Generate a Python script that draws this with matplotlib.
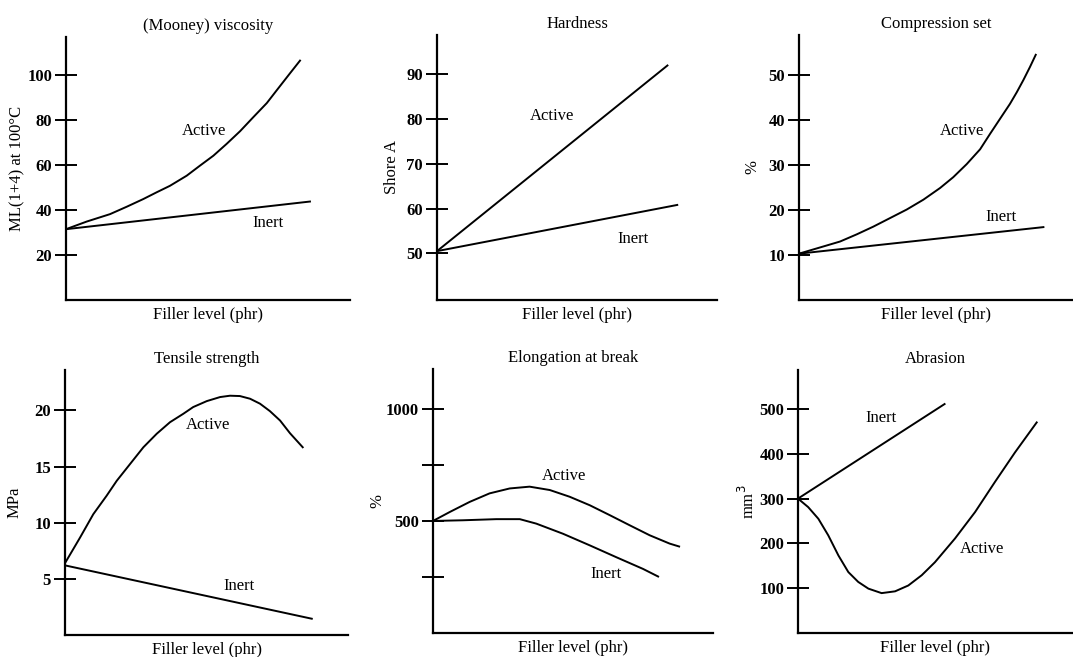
import matplotlib
matplotlib.use('Agg')
import matplotlib.pyplot as plt

plt.rcParams['font.family'] = ['Liberation Serif', 'DejaVu Serif']
plt.rcParams['font.size'] = 12

W, H = 1073, 657
filler_label = 'Filler level (phr)'

# (Mooney) viscosity
visc_active_x = [0, 7.3, 15.5, 21.4, 27.2, 31.9, 36.6, 42.5, 47.2, 51.9, 56.6,
                 61.3, 66.0, 70.7, 74.2, 78.9, 82.4]
visc_active_y = [31.5, 34.9, 38.2, 41.5, 44.9, 47.9, 50.8, 55.3, 59.8, 64.2, 69.5,
                 75.1, 81.4, 87.6, 93.3, 100.9, 106.5]
visc_inert_x = [0, 85.9]
visc_inert_y = [31.5, 43.8]
visc_ticks = [20, 40, 60, 80, 100]

# hardness
hard_active_x = [0, 82.3]
hard_active_y = [50.5, 91.9]
hard_inert_x = [0, 85.8]
hard_inert_y = [50.5, 60.8]
hard_ticks = [50, 60, 70, 80, 90]

# compression set
comp_active_x = [0, 8.9, 15.0, 21.1, 27.1, 33.2, 39.3, 45.4, 51.5, 56.3, 61.2,
                 66.1, 69.7, 73.4, 77.0, 79.5, 81.9, 84.3, 86.4]
comp_active_y = [10.3, 11.9, 13.0, 14.6, 16.3, 18.2, 20.1, 22.3, 24.9, 27.3, 30.2,
                 33.5, 36.9, 40.3, 43.6, 46.2, 48.9, 51.8, 54.5]
comp_inert_x = [0, 89.2]
comp_inert_y = [10.3, 16.2]
comp_ticks = [10, 20, 30, 40, 50]

# tensile strength
tens_active_x = [0, 5.3, 10.0, 14.7, 18.3, 23.0, 27.7, 32.4, 37.1, 41.8, 45.3, 50.1,
                 54.8, 58.3, 61.8, 65.4, 68.9, 72.4, 76.0, 79.5, 84.0]
tens_active_y = [6.4, 8.67, 10.76, 12.4, 13.74, 15.23, 16.72, 17.92, 18.95, 19.7, 20.3, 20.83,
                 21.19, 21.31, 21.28, 21.04, 20.6, 19.94, 19.1, 17.97, 16.72]
tens_inert_x = [0, 87.2]
tens_inert_y = [6.2, 1.45]
tens_ticks = [5, 10, 15, 20]

# elongation at break
elong_active_x = [0, 6.0, 13.1, 20.2, 27.4, 34.5, 41.7, 48.8, 56.0, 63.1, 70.2, 77.4, 84.5, 87.9]
elong_active_y = [500, 540, 585, 623, 645, 653, 638, 608, 570, 526, 481, 436, 399, 386]
elong_inert_x = [0, 10.7, 22.6, 31.0, 36.9, 46.4, 56.0, 65.5, 75.0, 80.4]
elong_inert_y = [500, 503, 508, 508, 488, 443, 391, 338, 286, 252]
elong_ticks = [250, 500, 750, 1000]
elong_ticklabels = ['', '500', '', '1000']

# abrasion
abr_active_x = [0, 3.7, 7.4, 11.0, 14.7, 18.3, 21.9, 25.6, 30.4, 35.3, 40.1, 45.0,
                49.8, 57.1, 64.4, 71.6, 78.9, 86.8]
abr_active_y = [300, 281, 255, 218, 173, 136, 114, 99, 89, 93, 106, 129,
                158, 211, 270, 337, 403, 470]
abr_inert_x = [0, 53.3]
abr_inert_y = [300, 511]
abr_ticks = [100, 200, 300, 400, 500]


def make_axes(fig, left, top, right, bottom):
    # pixel box -> figure fraction
    ax = fig.add_axes([left / W, 1 - bottom / H, (right - left) / W, (bottom - top) / H])
    ax.spines['top'].set_visible(False)
    ax.spines['right'].set_visible(False)
    for s in ['left', 'bottom']:
        ax.spines[s].set_linewidth(1.6)
    ax.set_xticks([])
    ax.set_xlim(0, 100)
    ax.tick_params(axis='y', direction='inout', length=16, width=1.4, pad=2)
    return ax


def draw_panel(ax, title, ylabel, ylim, ticks, active, inert, active_pos, inert_pos,
               label_off, ticklabels=None):
    ax.plot(active[0], active[1], color='black', lw=1.4, solid_joinstyle='round')
    ax.plot(inert[0], inert[1], color='black', lw=1.4)
    ax.set_ylim(*ylim)
    ax.set_yticks(ticks)
    if ticklabels is not None:
        ax.set_yticklabels(ticklabels)
    for lbl in ax.get_yticklabels():
        lbl.set_fontweight('bold')
    ax.set_title(title, fontsize=12, pad=5)
    ax.set_xlabel(filler_label, fontsize=12, labelpad=5)
    ax.set_ylabel(ylabel, fontsize=12)
    width_px = ax.get_position().width * W
    ax.yaxis.set_label_coords(-label_off / width_px, 0.5)
    ax.text(active_pos[0], active_pos[1], 'Active', ha='center', va='center', fontsize=12)
    ax.text(inert_pos[0], inert_pos[1], 'Inert', ha='center', va='center', fontsize=12)


fig = plt.figure(figsize=(W / 100, H / 100), dpi=100)

ax1 = make_axes(fig, 66, 37, 350, 300)
draw_panel(ax1, '(Mooney) viscosity', 'ML(1+4) at 100°C', (0, 117), visc_ticks,
           (visc_active_x, visc_active_y), (visc_inert_x, visc_inert_y),
           (48.6, 75), (71.2, 34.4), 41)

ax2 = make_axes(fig, 437, 35, 717, 300)
draw_panel(ax2, 'Hardness', 'Shore A', (39.6, 98.7), hard_ticks,
           (hard_active_x, hard_active_y), (hard_inert_x, hard_inert_y),
           (41, 80.7), (70.1, 53.1), 37)

ax3 = make_axes(fig, 799, 35, 1073, 300)
draw_panel(ax3, 'Compression set', '%', (0, 58.9), comp_ticks,
           (comp_active_x, comp_active_y), (comp_inert_x, comp_inert_y),
           (59.6, 37.5), (73.8, 18.4), 39)

ax4 = make_axes(fig, 65, 370, 348, 635)
draw_panel(ax4, 'Tensile strength', 'MPa', (0, 23.6), tens_ticks,
           (tens_active_x, tens_active_y), (tens_inert_x, tens_inert_y),
           (50.6, 18.7), (61.6, 4.4), 42)

ax5 = make_axes(fig, 433, 369, 713, 633)
draw_panel(ax5, 'Elongation at break', '%', (0, 1178), elong_ticks,
           (elong_active_x, elong_active_y), (elong_inert_x, elong_inert_y),
           (46.7, 702), (61.9, 264), 48, ticklabels=elong_ticklabels)

ax6 = make_axes(fig, 798, 370, 1073, 633)
draw_panel(ax6, 'Abrasion', 'mm$^3$', (0, 587), abr_ticks,
           (abr_active_x, abr_active_y), (abr_inert_x, abr_inert_y),
           (67, 187), (30.3, 479), 40)

fig.savefig('out.png', dpi=100)
